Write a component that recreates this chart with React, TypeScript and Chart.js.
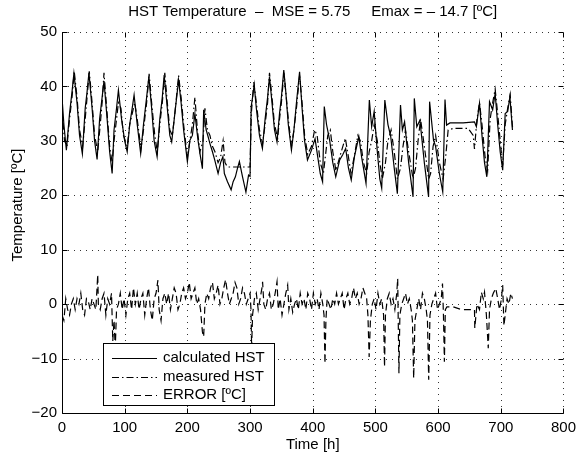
import React, { useEffect, useRef } from 'react';
import { Chart, registerables } from 'chart.js';

Chart.register(...registerables);

const FONT = '"Liberation Sans", Arial, Helvetica, sans-serif';

const TITLE = 'HST Temperature  \u2013  MSE = 5.75     Emax = \u2013 14.7 [\u00baC]';
const X_LABEL = 'Time [h]';
const Y_LABEL = 'Temperature [\u00baC]';
const SERIES_NAMES = ['calculated HST', 'measured HST', 'ERROR [\u00baC]'];

const X_MIN = 0;
const X_MAX = 800;
const X_STEP = 100;
const Y_MIN = -20;
const Y_MAX = 50;
const Y_STEP = 10;

// calculated HST
const calcHours = [
  0, 3, 7, 12, 16, 19, 24, 28, 32.5, 37, 40, 43, 48, 52, 56, 60, 64, 67, 72, 76, 80, 83, 87, 90, 95, 100, 104, 108, 112, 115,
  120, 125.5, 130, 135, 138.6, 143, 147, 151.7, 156, 160, 163, 168, 172, 175, 180, 186, 190, 194, 200, 204, 208, 212, 217, 221, 224, 226, 230, 233, 236, 240,
  243.6, 249, 253, 256.7, 259, 264, 269.8, 273, 276.6, 280, 283, 288, 293.4, 297.6, 300, 301.8, 304, 306.6, 310, 315, 319.7, 324, 328, 331, 335, 339, 343, 347, 350, 353.8,
  357, 361, 366, 370, 374, 379, 383, 387, 391.6, 398, 403.7, 408, 412, 415.7, 418.4, 422, 427, 432, 436.7, 443, 448, 452.5, 457, 461.4, 466.5, 473.5, 478, 485, 490.3, 494,
  498, 503, 507, 510, 515, 520, 524.4, 530, 535, 540, 543, 546.5, 553, 560, 562, 566, 571, 578, 584.8, 586.4, 592.7, 596, 602, 607.4, 611, 613.5, 618.9, 640, 658, 661,
  666, 670, 674, 677.7, 682, 687, 691, 695, 699, 703, 707, 711, 714.5, 718.6,
];
const calcTemp = [
  38, 33, 28.3, 35, 39, 42.4, 37, 31, 27.6, 36, 39, 42.5, 36, 30, 26.6, 34, 38, 41, 34, 28, 24, 32, 36, 39.3, 34, 30, 28, 33, 36, 38.4,
  33, 27.7, 33, 38, 41.8, 36, 30, 27.1, 34, 38, 42.1, 36, 31, 29.8, 35, 41.2, 37, 32, 26.2, 30.1, 31, 35, 30.1, 27, 24.9, 35.7, 32, 30.8, 29.5, 28,
  26.5, 24, 26, 27.1, 24, 22.5, 21, 22.5, 23.4, 25, 26.2, 23.4, 20.6, 23.7, 23.5, 36.3, 38, 40.3, 36, 31, 28.6, 34, 38, 41.8, 37, 32, 29.8, 35, 38, 43,
  39, 33, 28.3, 32, 37, 42.7, 36, 30, 26.5, 28.3, 30.4, 27, 24, 22.5, 36.3, 33, 30.1, 26, 23.4, 26.5, 27.5, 28.6, 25, 22.8, 27.1, 30.8, 27, 22.2, 37.5, 32.6,
  35.4, 28, 23, 21.3, 37.5, 33, 30.8, 25, 20.3, 36.6, 32, 33.5, 26, 19.7, 37.8, 32.6, 33.8, 26, 19.7, 37.2, 30.1, 29, 24, 20.6, 37.6, 32.9, 33.3, 33.3, 33.5, 32.6,
  36.9, 31, 26, 23.4, 37.2, 35.7, 38.7, 33, 28, 24.6, 35, 35.4, 38.1, 32,
];

// measured HST
const measHours = [
  0, 4, 8, 12, 16, 19.5, 24, 28, 33, 37, 40, 43.5, 48, 52, 57, 61, 64, 67, 72, 76, 80, 83, 87, 90, 94, 98, 104, 108, 112, 116,
  120, 126, 130, 135, 139, 143, 148, 152, 156, 160, 164, 168, 172, 176, 180, 186, 190, 194, 200, 204, 208, 212, 216, 220, 225, 228, 232, 236, 240, 244,
  249, 253, 257, 260, 264, 300, 302, 306, 310, 315, 320, 324, 328, 331, 335, 339, 344, 347, 350, 354, 357, 361, 366, 370, 374, 379, 383, 387, 392, 398,
  403, 407, 412, 417, 420, 424, 428, 432, 437, 443, 448, 452, 457, 461, 466, 472, 476, 481, 486, 490, 494, 498, 503, 507, 511, 516, 520, 525, 530, 535,
  540, 544, 548, 553, 560, 564, 568, 572, 578, 585, 588, 592, 596, 602, 608, 612, 616, 625, 648, 656, 658, 662, 666, 670, 675, 679, 683, 687, 691, 695,
  699, 703, 707, 711, 715, 719,
];
const measTemp = [
  36, 30, 29, 34, 38, 42.8, 38, 32, 29, 34, 38, 42.8, 37, 31, 28, 33, 37, 42.5, 35, 29, 26, 30, 34, 37, 36, 31, 29, 33, 35, 37,
  34, 28.5, 32, 37, 42.3, 37, 31, 28, 33, 37, 42.5, 37, 32, 31, 35, 42, 38, 33, 27, 30, 33, 38, 32, 28, 30, 36, 32, 31, 29, 28,
  26, 27, 30, 26, 25.2, 25.2, 35, 40.8, 37, 32, 29.5, 33, 37, 42.5, 38, 33, 30.5, 34, 37, 42.5, 39, 34, 29, 32, 36, 42, 37, 31, 27.5, 29,
  32, 31, 26, 24, 27, 31, 32, 28, 24.5, 27, 29, 30.5, 27, 24, 27, 31, 30, 26, 24, 28, 30, 33, 30, 26, 23, 26, 30, 32, 28, 23,
  25, 29, 32, 28, 23, 25, 30, 34, 29, 23, 24, 29, 31, 26, 23, 27, 32, 32.3, 32.3, 31, 28.5, 34, 37, 33, 27, 24.5, 34, 37, 39.5, 35,
  30, 25.5, 33, 36, 38.5, 32,
];

// ERROR [ºC]
const errHours = [
  0, 3, 6, 9, 12, 15, 18, 21, 24, 27, 30, 33, 36, 39, 42, 45, 48, 51, 54, 57, 58, 61, 64, 67, 70, 73, 76, 79, 81, 83,
  85, 87, 90, 93, 96, 99, 102, 105, 108, 111, 114, 117, 120, 123, 126, 129, 132, 135, 138, 141, 144, 147, 150, 153, 155, 158, 161, 164, 167, 170,
  173, 176, 179, 182, 185, 188, 191, 194, 197, 200, 203, 206, 209, 212, 215, 218, 221, 224, 226, 228, 231, 234, 237, 240, 243, 246, 249, 252, 255, 258,
  261, 264, 267, 270, 273, 276, 279, 282, 285, 288, 291, 294, 297, 300, 301.5, 302.5, 304, 307, 310, 313, 316, 319, 320, 322, 325, 328, 331, 334, 337, 340,
  343, 345, 348, 351, 354, 357, 360, 362, 365, 368, 371, 374, 377, 380, 383, 386, 389, 392, 395, 398, 401, 404, 407, 410, 413, 416, 418, 419.5, 421, 423,
  426, 429, 432, 435, 438, 441, 444, 447, 450, 453, 456, 459, 462, 465, 468, 471, 474, 477, 480, 483, 486, 488, 490, 492, 495, 498, 501, 504, 507, 510,
  513, 514.5, 516, 519, 522, 525, 528, 531, 534, 535.5, 537.5, 539, 542, 545, 548, 551, 554, 557, 559, 561, 563, 566, 569, 572, 575, 578, 581, 583, 585, 587,
  590, 593, 596, 599, 602, 605, 607, 608.5, 610, 611.5, 614, 624, 637, 658, 658.5, 662, 666, 669, 672, 674, 677, 680, 682, 685, 688, 692, 695, 698, 701, 703,
  705, 707, 710, 713, 716, 718.6,
];
const errTemp = [
  -2, -3, 1, -1, -2, 0, 1, -1, 1, 0, 2, -1, -2, 1, 0.5, -1, 1, 0, -1, 5.4, 0, -1, 1, 2, -2, 1, 0, 2, -6.8, -3,
  -8, -1, 0, 2, -1, 1, -2, 1, 2, -1, 3, 0, 2, -1, 1, 2, -2, 1, 3, -1, -3, 1, 2, 4.4, -1, -3, 1, 2, 0, 2,
  -1, 1, 3, 2, -1, 0, 2, 3, 1, 2, 4, 1, 2, 3, 0, 1, -1, -5.1, -6, 0, 2, 1, 3, 4, 1, 2, 3.5, 0, 1, 3,
  4.5, 2, 0, 1, 2, 4, 3, 0, 1, 3, 2, 0, 1, 2, -1, -8, -2, 1, 2, -1, 1, 3, 4.1, 0, -1, 1, 2, -1, 0, 2,
  4.1, -1, 1, -2, 0, 2, 3.5, -1, 1, -1.5, 0, 1, -1, 2, 0, 1, -1, 2, 1, -1, 2, 0, 1, -1, 2, 0, -2, -10.9, -3, 1,
  0, -1, 1, 0, 2, 0, 1, 2, -1, 1, 2, 0, 1, 3, 1, 2, 0, 1, 3, 2, 1, -2, -9.7, -3, 0, 1, -1, 2, 0, 1,
  -2, -11.5, -2, 1, 2, 0, 1, -1, 2, 4.7, -12.7, -2, 0, 1, 2, 0, 1, -1, -3, -13.6, -3, -1, 1, -1, 2, 1, -1, -3, -13.9, -2,
  0, 1, 2, -1, 0, 1, 3.8, -2, -10.6, -1, -0.5, -0.5, -1, -1, -4.4, 0, -1, 2.2, 1, 2.2, -2, -8.1, -1, 1, 2, 2.9, 1, -1, 1, 3.5,
  -4, -2, 1, 0, 2, 1,
];

const toPoints = (xs: number[], ys: number[]) => xs.map((x, i) => ({ x, y: ys[i] }));

const DASH_DOT = [7, 3, 1.5, 3];
const DASHED = [7, 4];
const LINE_W = 1.2;

const framePlugin = {
  id: 'matlabFrame',
  beforeDatasetsDraw(chart: any) {
    const { ctx, chartArea, scales } = chart;
    const { left, right, top, bottom } = chartArea;
    const xs = scales.x;
    const ys = scales.y;
    ctx.save();
    ctx.strokeStyle = '#333';
    ctx.lineWidth = 1;
    ctx.setLineDash([1, 5]);
    for (let v = X_MIN + X_STEP; v <= X_MAX; v += X_STEP) {
      const px = Math.round(xs.getPixelForValue(v)) + 0.5;
      ctx.beginPath();
      ctx.moveTo(px, bottom);
      ctx.lineTo(px, top);
      ctx.stroke();
    }
    for (let v = Y_MIN + Y_STEP; v <= Y_MAX; v += Y_STEP) {
      const py = Math.round(ys.getPixelForValue(v)) + 0.5;
      ctx.beginPath();
      ctx.moveTo(left, py);
      ctx.lineTo(right, py);
      ctx.stroke();
    }
    ctx.restore();
  },
  afterDatasetsDraw(chart: any) {
    const { ctx, chartArea, scales } = chart;
    const { left, right, top, bottom } = chartArea;
    const xs = scales.x;
    const ys = scales.y;
    const L = Math.round(left) + 0.5;
    const B = Math.round(bottom) + 0.5;
    const R = Math.round(right) + 0.5;
    const T = Math.round(top) + 0.5;
    ctx.save();
    ctx.strokeStyle = '#000';
    ctx.lineWidth = 1;
    ctx.setLineDash([]);
    ctx.beginPath();
    ctx.moveTo(L, T);
    ctx.lineTo(L, B);
    ctx.lineTo(R, B);
    ctx.stroke();
    const tl = 5;
    ctx.beginPath();
    for (let v = X_MIN; v <= X_MAX; v += X_STEP) {
      const px = Math.round(xs.getPixelForValue(v)) + 0.5;
      ctx.moveTo(px, B);
      ctx.lineTo(px, B - tl);
      ctx.moveTo(px, T);
      ctx.lineTo(px, T + tl);
    }
    for (let v = Y_MIN; v <= Y_MAX; v += Y_STEP) {
      const py = Math.round(ys.getPixelForValue(v)) + 0.5;
      ctx.moveTo(L, py);
      ctx.lineTo(L + tl, py);
      ctx.moveTo(R, py);
      ctx.lineTo(R - tl, py);
    }
    ctx.stroke();

    // legend
    const bx = 103.5, by = 343.5, bw = 171, bh = 62;
    ctx.fillStyle = '#fff';
    ctx.fillRect(bx, by, bw, bh);
    ctx.strokeStyle = '#000';
    ctx.strokeRect(bx, by, bw, bh);
    const dashes = [[], DASH_DOT, DASHED];
    ctx.font = '15px ' + FONT;
    ctx.textBaseline = 'middle';
    ctx.textAlign = 'left';
    ctx.fillStyle = '#000';
    ctx.lineWidth = LINE_W;
    SERIES_NAMES.forEach((name, i) => {
      const ry = 358 + i * 18.5;
      ctx.setLineDash(dashes[i]);
      ctx.beginPath();
      ctx.moveTo(112, Math.round(ry) + 0.5);
      ctx.lineTo(157, Math.round(ry) + 0.5);
      ctx.stroke();
      ctx.fillText(name, 163, ry);
    });
    ctx.setLineDash([]);

    // titles
    ctx.textAlign = 'center';
    ctx.fillText(TITLE, (left + right) / 2, 12);
    ctx.fillText(X_LABEL, (left + right) / 2, 445);
    ctx.translate(18, 205);
    ctx.rotate(-Math.PI / 2);
    ctx.fillText(Y_LABEL, 0, 0);
    ctx.restore();
  },
};

export default function App() {
  const ref = useRef<HTMLCanvasElement | null>(null);
  useEffect(() => {
    if (!ref.current) return;
    const common = { borderColor: '#000', borderWidth: LINE_W, pointRadius: 0, tension: 0 };
    const chart = new Chart(ref.current, {
      type: 'line',
      data: {
        datasets: [
          { label: SERIES_NAMES[0], data: toPoints(calcHours, calcTemp), ...common },
          { label: SERIES_NAMES[1], data: toPoints(measHours, measTemp), borderDash: DASH_DOT, ...common },
          { label: SERIES_NAMES[2], data: toPoints(errHours, errTemp), borderDash: DASHED, ...common },
        ],
      },
      options: {
        responsive: false,
        animation: false,
        events: [],
        layout: { padding: { top: 32, right: 12.5, left: 0, bottom: 0 } },
        plugins: { legend: { display: false }, tooltip: { enabled: false }, title: { display: false } },
        scales: {
          x: {
            type: 'linear',
            min: X_MIN,
            max: X_MAX,
            grid: { display: false, drawTicks: false },
            border: { display: false },
            ticks: {
              stepSize: X_STEP,
              color: '#000',
              font: { family: FONT, size: 15 },
              padding: 6,
              maxRotation: 0,
              callback: (v: any) => String(v).replace('-', '\u2212'),
            },
            afterFit: (s: any) => { s.height = 42; },
          },
          y: {
            type: 'linear',
            min: Y_MIN,
            max: Y_MAX,
            grid: { display: false, drawTicks: false },
            border: { display: false },
            ticks: {
              stepSize: Y_STEP,
              color: '#000',
              font: { family: FONT, size: 15 },
              padding: 5,
              callback: (v: any) => String(v).replace('-', '\u2212'),
            },
            afterFit: (s: any) => { s.width = 62; },
          },
        },
      },
      plugins: [framePlugin],
    } as any);
    return () => chart.destroy();
  }, []);
  return (
    <div style={{ position: 'fixed', left: 0, top: 0, width: 582, height: 455, background: '#fff' }}>
      <canvas ref={ref} width={582} height={455} />
    </div>
  );
}
